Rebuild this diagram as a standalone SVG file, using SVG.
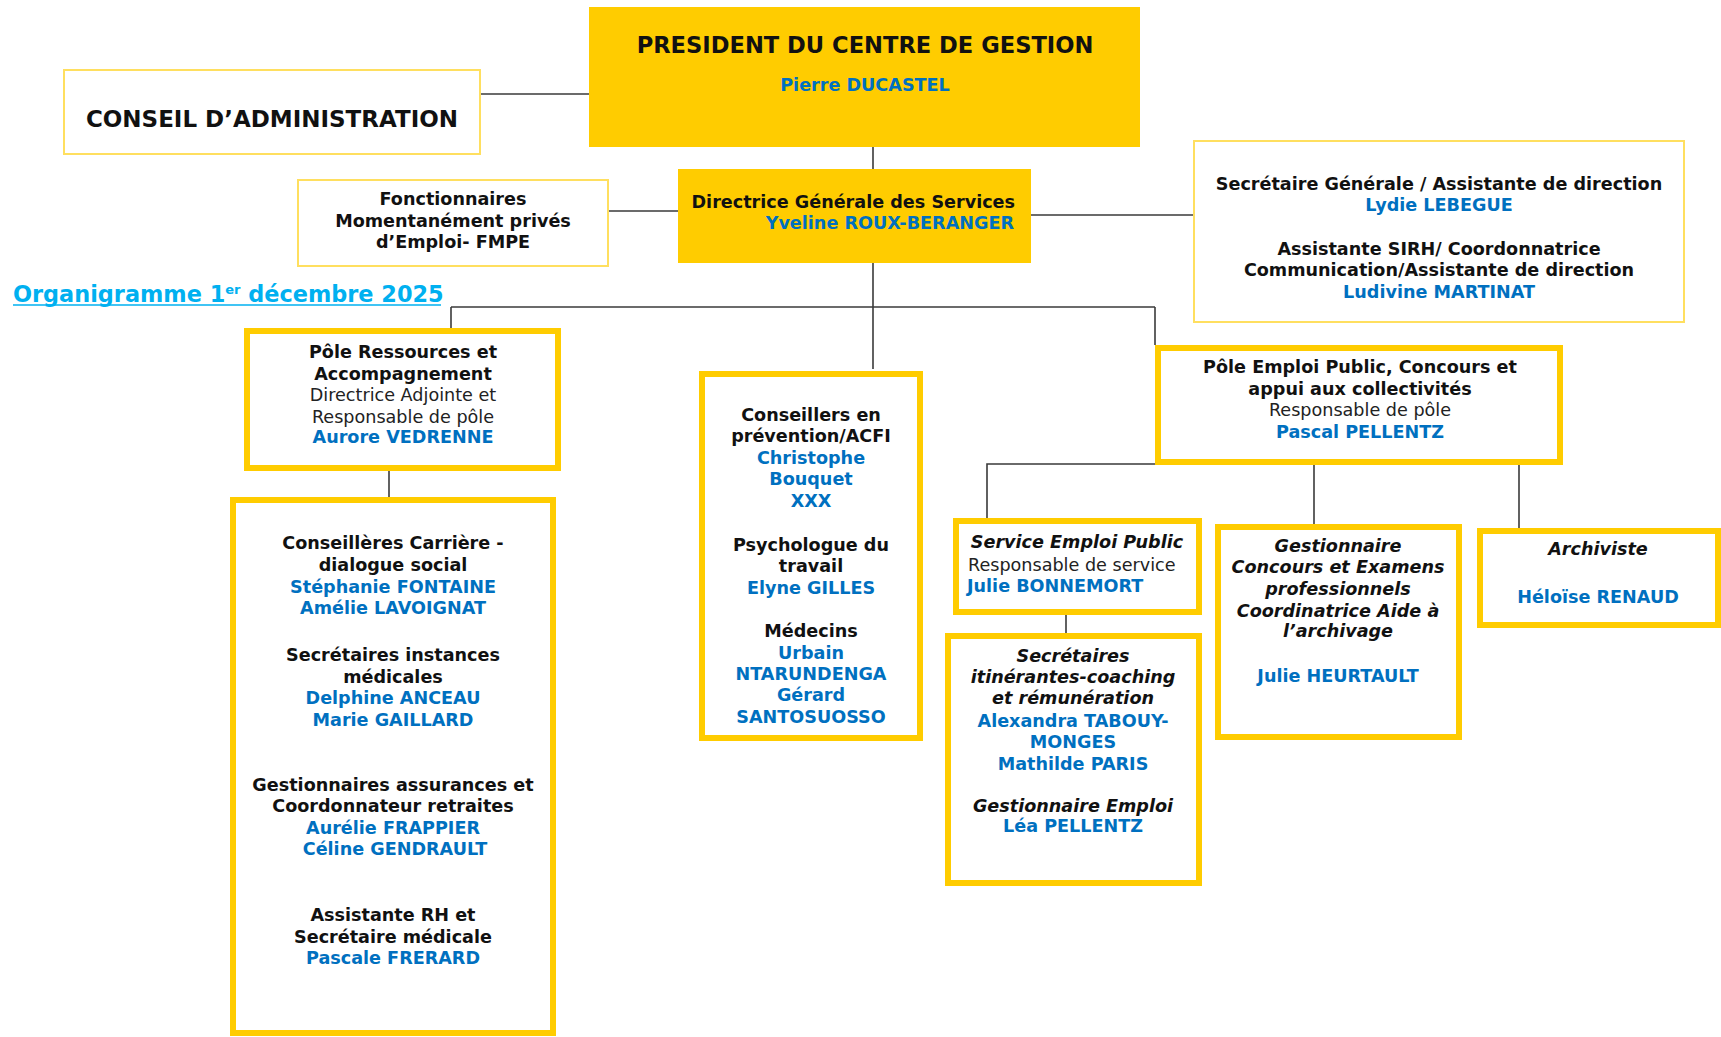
<svg xmlns="http://www.w3.org/2000/svg" width="1721" height="1037" viewBox="0 0 1721 1037">
<style>
text{font-family:"DejaVu Sans",Verdana,sans-serif;font-size:17.6px;fill:#111;text-anchor:middle}
.b{font-weight:bold}
.bi{font-weight:bold;font-style:italic}
.n{font-weight:bold;fill:#0070C0}
.r{font-weight:normal;fill:#222}
.big{font-size:22.6px;font-weight:bold}
.thick{fill:#fff;stroke:#FFCC00;stroke-width:6}
.thin{fill:#fff;stroke:#FFDF5F;stroke-width:2}
.gold{fill:#FFCC00}
.st{text-anchor:start}
#connectors path{fill:none;stroke:#3a3a3a;stroke-width:1.6}
</style>
<rect width="1721" height="1037" fill="#fff"/>
<g id="connectors">
<path d="M481,94H589"/>
<path d="M873,147V169"/>
<path d="M609,211H678"/>
<path d="M1031,215H1193"/>
<path d="M873,263V369"/>
<path d="M451,307H1155"/>
<path d="M451,307V328"/>
<path d="M1155,307V345"/>
<path d="M389,471V497"/>
<path d="M1155,464H987V518"/>
<path d="M1314,464V524"/>
<path d="M1519,464V528"/>
<path d="M1066,614V633"/>
</g>
<g id="title">
<text x="13" y="302" class="st" style="font-size:22.4px;font-weight:bold;fill:#00B0F0">Organigramme 1<tspan dy="-8" style="font-size:13px">er</tspan><tspan dy="8"> décembre 2025</tspan></text>
<line x1="13" y1="305" x2="441" y2="305" stroke="#00B0F0" stroke-width="1.6"/>
</g>
<g id="conseil">
<rect class="thin" x="64" y="70" width="416" height="84"/>
<text x="272" y="127" class="big" style="font-size:23px">CONSEIL D’ADMINISTRATION</text>
</g>
<g id="president">
<rect class="gold" x="589" y="7" width="551" height="140"/>
<text x="865" y="53" class="big">PRESIDENT DU CENTRE DE GESTION</text>
<text x="865" y="91" class="n">Pierre DUCASTEL</text>
</g>
<g id="dgs">
<rect class="gold" x="678" y="169" width="353" height="94"/>
<text x="1015" y="208" class="b" style="text-anchor:end">Directrice Générale des Services</text>
<text x="1014" y="229" class="n" style="text-anchor:end">Yveline ROUX-BERANGER</text>
</g>
<g id="fmpe">
<rect class="thin" x="298" y="180" width="310" height="86"/>
<text x="453" y="205" class="b">Fonctionnaires</text>
<text x="453" y="227" class="b">Momentanément privés</text>
<text x="453" y="248" class="b">d’Emploi- FMPE</text>
</g>
<g id="secretariat">
<rect class="thin" x="1194" y="141" width="490" height="181"/>
<text x="1439" y="190" class="b">Secrétaire Générale / Assistante de direction</text>
<text x="1439" y="211" class="n">Lydie LEBEGUE</text>
<text x="1439" y="255" class="b">Assistante SIRH/ Coordonnatrice</text>
<text x="1439" y="276" class="b">Communication/Assistante de direction</text>
<text x="1439" y="298" class="n">Ludivine MARTINAT</text>
</g>
<g id="pole-ressources">
<rect class="thick" x="247" y="331" width="311" height="137"/>
<text x="403" y="358" class="b">Pôle Ressources et</text>
<text x="403" y="380" class="b">Accompagnement</text>
<text x="403" y="401" class="r">Directrice Adjointe et</text>
<text x="403" y="423" class="r">Responsable de pôle</text>
<text x="403" y="443" class="n">Aurore VEDRENNE</text>
</g>
<g id="equipe-ressources">
<rect class="thick" x="233" y="500" width="320" height="533"/>
<text x="393" y="549" class="b">Conseillères Carrière -</text>
<text x="393" y="571" class="b">dialogue social</text>
<text x="393" y="593" class="n">Stéphanie FONTAINE</text>
<text x="393" y="614" class="n">Amélie LAVOIGNAT</text>
<text x="393" y="661" class="b">Secrétaires instances</text>
<text x="393" y="683" class="b">médicales</text>
<text x="393" y="704" class="n">Delphine ANCEAU</text>
<text x="393" y="726" class="n">Marie GAILLARD</text>
<text x="393" y="791" class="b">Gestionnaires assurances et</text>
<text x="393" y="812" class="b">Coordonnateur retraites</text>
<text x="393" y="834" class="n">Aurélie FRAPPIER</text>
<text x="395" y="855" class="n">Céline GENDRAULT</text>
<text x="393" y="921" class="b">Assistante RH et</text>
<text x="393" y="943" class="b">Secrétaire médicale</text>
<text x="393" y="964" class="n">Pascale FRERARD</text>
</g>
<g id="prevention">
<rect class="thick" x="702" y="374" width="218" height="364"/>
<text x="811" y="421" class="b">Conseillers en</text>
<text x="811" y="442" class="b">prévention/ACFI</text>
<text x="811" y="464" class="n">Christophe</text>
<text x="811" y="485" class="n">Bouquet</text>
<text x="811" y="507" class="n">XXX</text>
<text x="811" y="551" class="b">Psychologue du</text>
<text x="811" y="572" class="b">travail</text>
<text x="811" y="594" class="n">Elyne GILLES</text>
<text x="811" y="637" class="b">Médecins</text>
<text x="811" y="659" class="n">Urbain</text>
<text x="811" y="680" class="n">NTARUNDENGA</text>
<text x="811" y="701" class="n">Gérard</text>
<text x="811" y="723" class="n">SANTOSUOSSO</text>
</g>
<g id="pole-emploi">
<rect class="thick" x="1158" y="348" width="402" height="114"/>
<text x="1360" y="373" class="b">Pôle Emploi Public, Concours et</text>
<text x="1360" y="395" class="b">appui aux collectivités</text>
<text x="1360" y="416" class="r">Responsable de pôle</text>
<text x="1360" y="438" class="n">Pascal PELLENTZ</text>
</g>
<g id="service-emploi">
<rect class="thick" x="956" y="521" width="243" height="91"/>
<text x="1077" y="548" class="bi">Service Emploi Public</text>
<text x="968" y="571" class="r st">Responsable de service</text>
<text x="967" y="592" class="n st">Julie BONNEMORT</text>
</g>
<g id="secretaires-itinerantes">
<rect class="thick" x="948" y="636" width="251" height="247"/>
<text x="1073" y="662" class="bi">Secrétaires</text>
<text x="1073" y="683" class="bi">itinérantes-coaching</text>
<text x="1073" y="704" class="bi">et rémunération</text>
<text x="1073" y="727" class="n">Alexandra TABOUY-</text>
<text x="1073" y="748" class="n">MONGES</text>
<text x="1073" y="770" class="n">Mathilde PARIS</text>
<text x="1073" y="812" class="bi">Gestionnaire Emploi</text>
<text x="1073" y="832" class="n">Léa PELLENTZ</text>
</g>
<g id="concours">
<rect class="thick" x="1218" y="527" width="241" height="210"/>
<text x="1338" y="552" class="bi">Gestionnaire</text>
<text x="1338" y="573" class="bi">Concours et Examens</text>
<text x="1338" y="595" class="bi">professionnels</text>
<text x="1338" y="617" class="bi">Coordinatrice Aide à</text>
<text x="1338" y="637" class="bi">l’archivage</text>
<text x="1338" y="682" class="n">Julie HEURTAULT</text>
</g>
<g id="archiviste">
<rect class="thick" x="1480" y="531" width="238" height="94"/>
<text x="1598" y="555" class="bi">Archiviste</text>
<text x="1598" y="603" class="n">Héloïse RENAUD</text>
</g>
</svg>
